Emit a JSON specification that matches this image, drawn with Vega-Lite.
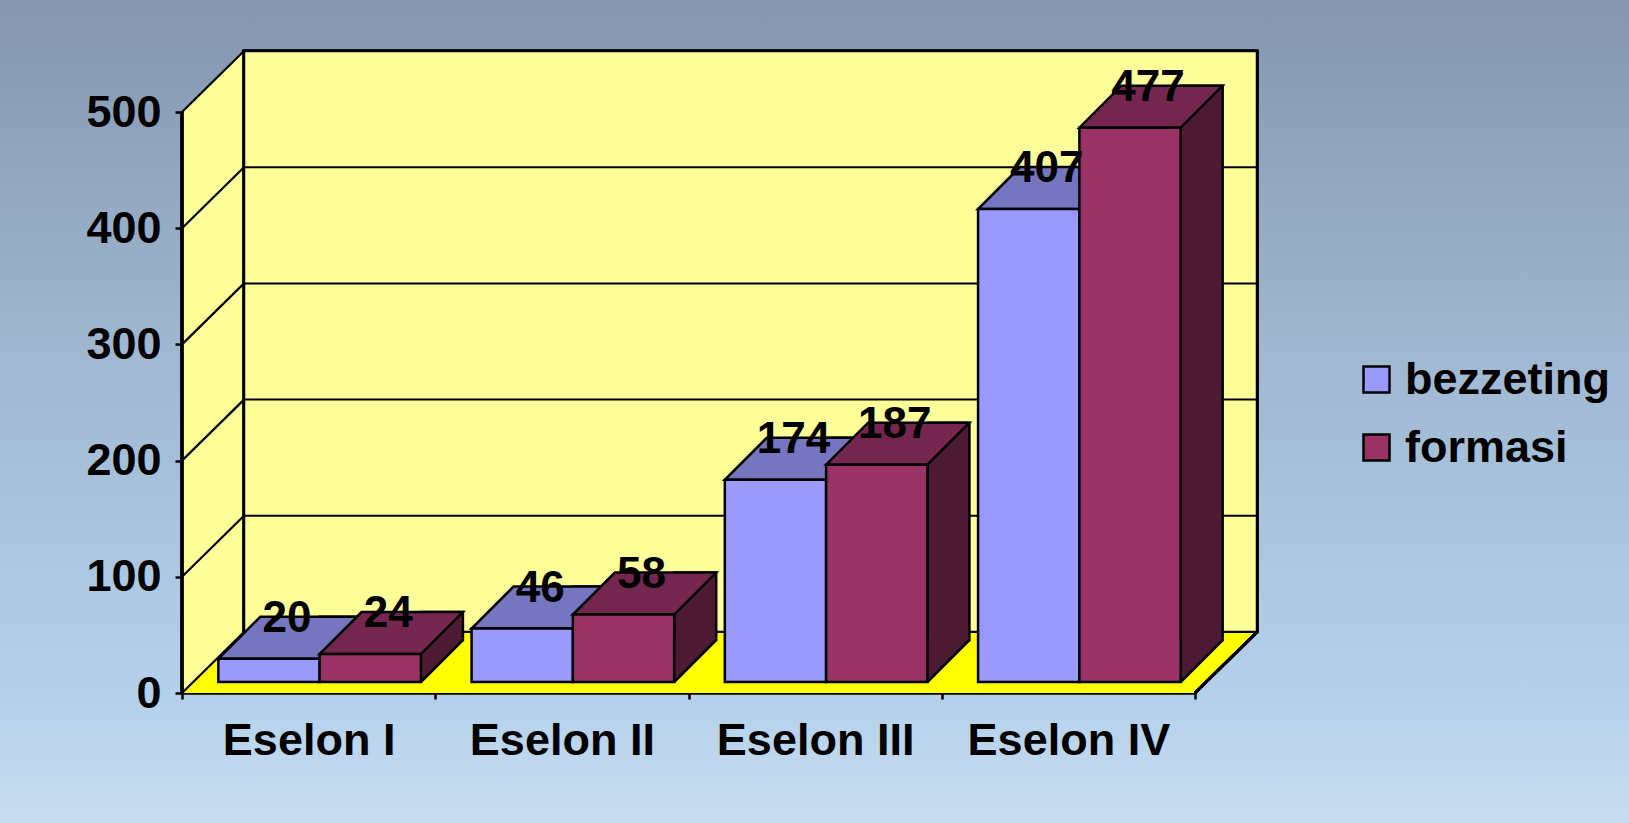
{
  "$schema": "https://vega.github.io/schema/vega-lite/v6.json",
  "width": 1629,
  "height": 823,
  "autosize": {"type": "none"},
  "padding": 0,
  "background": "#A9C1DA",
  "config": {
    "view": {
      "stroke": null,
      "fill": {"gradient": "linear", "x1": 0, "y1": 0, "x2": 0, "y2": 1,
        "stops": [
          {"offset": 0, "color": "#8596AE"},
          {"offset": 0.45, "color": "#A1B9D3"},
          {"offset": 0.85, "color": "#B4D1EB"},
          {"offset": 1, "color": "#C9DDF1"}
        ]}
    },
    "font": "Liberation Sans",
    "axis": {
      "domainColor": "black", "domainWidth": 2.5, "tickColor": "black", "tickWidth": 2.5,
      "labelColor": "black", "labelFont": "Liberation Sans", "labelFontWeight": "bold",
      "labelFontSize": 45, "grid": false, "zindex": 1, "labelLimit": 0
    },
    "axisY": {"offset": -182, "tickSize": 7, "labelPadding": 14},
    "axisX": {"offset": -130, "tickSize": 6, "labelPadding": 19, "tickBand": "extent", "labelAngle": 0},
    "legend": {
      "orient": "none", "legendX": 1354, "legendY": 357, "padding": 0,
      "symbolType": "square", "symbolSize": 676, "symbolStrokeColor": "black", "symbolStrokeWidth": 2.5,
      "labelFont": "Liberation Sans", "labelFontWeight": "bold", "labelFontSize": 45, "labelColor": "black",
      "rowPadding": 22, "labelOffset": 6, "labelLimit": 0
    }
  },
  "datasets": {
    "main": [
      {"eselon": "Eselon I", "series": "bezzeting", "value": 20},
      {"eselon": "Eselon I", "series": "formasi", "value": 24},
      {"eselon": "Eselon II", "series": "bezzeting", "value": 46},
      {"eselon": "Eselon II", "series": "formasi", "value": 58},
      {"eselon": "Eselon III", "series": "bezzeting", "value": 174},
      {"eselon": "Eselon III", "series": "formasi", "value": 187},
      {"eselon": "Eselon IV", "series": "bezzeting", "value": 407},
      {"eselon": "Eselon IV", "series": "formasi", "value": 477}
    ],
    "grid": [{"v": 0}, {"v": 100}, {"v": 200}, {"v": 300}, {"v": 400}, {"v": 500}]
  },
  "layer": [
    {
      "data": {"name": "main"},
      "layer": [
        {
          "mark": {"type": "rect", "fill": "#FFFF99", "strokeWidth": 0, "x2Offset": 62},
          "encoding": {
            "x": {"datum": 0, "type": "quantitative", "scale": {"domain": [0, 4], "range": [182, 1195], "nice": false, "zero": false}, "axis": null},
            "x2": {"datum": 0},
            "y": {"datum": 0, "type": "quantitative", "scale": {"domain": [0, 500], "range": [693, 112], "nice": false}, "title": null},
            "y2": {"datum": 500}
          }
        },
        {
          "mark": {"type": "point", "shape": "M0,0 L63,-62 L63,1 L0,1 Z", "size": 4, "filled": true, "fill": "#FFFF99", "strokeWidth": 0, "opacity": 1},
          "encoding": {
            "x": {"datum": 0, "type": "quantitative", "axis": null},
            "y": {"datum": 500, "type": "quantitative", "title": null}
          }
        },
        {
          "mark": {"type": "rect", "fill": "#FFFF99", "stroke": "black", "strokeWidth": 2.5, "xOffset": 62, "x2Offset": 62, "yOffset": -61, "y2Offset": -61},
          "encoding": {
            "x": {"datum": 0, "type": "quantitative", "axis": null},
            "x2": {"datum": 4},
            "y": {"datum": 0, "type": "quantitative", "title": null},
            "y2": {"datum": 500}
          }
        },
        {
          "mark": {"type": "rect", "fill": "#FFFF00", "strokeWidth": 0, "xOffset": 62, "yOffset": -60},
          "encoding": {
            "x": {"datum": 0, "type": "quantitative", "axis": null},
            "x2": {"datum": 4},
            "y": {"datum": 0, "type": "quantitative", "title": null},
            "y2": {"datum": 0}
          }
        },
        {
          "mark": {"type": "point", "shape": "M0,0 L61,-60 L63,-60 L63,0 Z", "size": 4, "filled": true, "fill": "#FFFF00", "strokeWidth": 0, "opacity": 1},
          "encoding": {
            "x": {"datum": 0, "type": "quantitative", "axis": null},
            "y": {"datum": 0, "type": "quantitative", "title": null}
          }
        },
        {
          "mark": {"type": "point", "shape": "M-1,0 L-1,-60 L61,-60 L0,0 Z", "size": 4, "filled": true, "fill": "#FFFF00", "strokeWidth": 0, "opacity": 1},
          "encoding": {
            "x": {"datum": 4, "type": "quantitative", "axis": null},
            "y": {"datum": 0, "type": "quantitative", "title": null}
          }
        },
        {
          "data": {"name": "grid"},
          "transform": [{"filter": "datum.v > 0 && datum.v < 500"}],
          "mark": {"type": "rule", "color": "black", "strokeWidth": 2, "xOffset": 62, "x2Offset": 62, "yOffset": -61},
          "encoding": {
            "x": {"datum": 0, "type": "quantitative", "axis": null},
            "x2": {"datum": 4},
            "y": {"field": "v", "type": "quantitative", "title": null}
          }
        },
        {
          "data": {"name": "grid"},
          "mark": {"type": "rule", "color": "black", "strokeWidth": 2.2, "x2Offset": 62, "y2Offset": -61},
          "encoding": {
            "x": {"datum": 0, "type": "quantitative", "axis": null},
            "x2": {"datum": 0},
            "y": {"field": "v", "type": "quantitative", "title": null},
            "y2": {"field": "v"}
          }
        },
        {
          "mark": {"type": "rule", "color": "black", "strokeWidth": 2.5, "x2Offset": 62, "y2Offset": -61},
          "encoding": {
            "x": {"datum": 4, "type": "quantitative", "axis": null},
            "x2": {"datum": 4},
            "y": {"datum": 0, "type": "quantitative", "title": null},
            "y2": {"datum": 0}
          }
        },
        {
          "mark": {"type": "rule", "color": "black", "strokeWidth": 2.5},
          "encoding": {
            "x": {"datum": 0, "type": "quantitative", "axis": null},
            "y": {"datum": 0, "type": "quantitative", "title": null},
            "y2": {"datum": 500}
          }
        }
      ]
    },
    {
      "data": {"name": "main"},
      "encoding": {
        "x": {"field": "eselon", "type": "nominal", "sort": null, "scale": {"range": [182, 1195], "paddingInner": 0, "paddingOuter": 0}, "title": null}
      },
      "layer": [
        {
          "mark": {"type": "bar", "width": 42, "yOffset": -53, "y2Offset": -53, "stroke": "black", "strokeWidth": 2.5},
          "encoding": {
            "xOffset": {"field": "series", "type": "nominal", "sort": null, "scale": {"range": [82.65, 335.9], "paddingInner": 0, "paddingOuter": 0.25}},
            "y": {"field": "value", "type": "quantitative", "title": null},
            "y2": {"datum": 0},
            "fill": {"field": "series", "type": "nominal", "scale": {"domain": ["bezzeting", "formasi"], "range": ["#4D4D80", "#4D1A33"]}, "legend": null}
          }
        },
        {
          "mark": {"type": "point", "shape": "M50.65,-55 L93.65,-55 L50.65,-11 Z", "size": 4, "filled": true, "strokeWidth": 0, "opacity": 1},
          "encoding": {
            "xOffset": {"field": "series", "type": "nominal", "sort": null, "scale": {"type": "point", "range": [11, 264.25], "padding": 0.75}},
            "y": {"datum": 0, "type": "quantitative", "title": null},
            "fill": {"field": "series", "type": "nominal", "scale": {"domain": ["bezzeting", "formasi"], "range": ["#4D4D80", "#4D1A33"]}, "legend": null}
          }
        },
        {
          "mark": {"type": "point", "shape": "M50.65,-11 L92.65,-53", "size": 4, "filled": false, "stroke": "black", "strokeWidth": 2.5, "opacity": 1},
          "encoding": {
            "xOffset": {"field": "series", "type": "nominal", "sort": null, "scale": {"type": "point", "range": [11, 264.25], "padding": 0.75}},
            "y": {"datum": 0, "type": "quantitative", "title": null}
          }
        },
        {
          "mark": {"type": "point", "shape": "M-50.65,-11 L50.65,-11 L92.65,-53 L-8.65,-53 Z", "size": 4, "filled": true, "stroke": "black", "strokeWidth": 2.5, "opacity": 1, "strokeJoin": "miter"},
          "encoding": {
            "xOffset": {"field": "series", "type": "nominal", "sort": null, "scale": {"type": "point", "range": [11, 264.25], "padding": 0.75}},
            "y": {"field": "value", "type": "quantitative", "title": null},
            "fill": {"field": "series", "type": "nominal", "scale": {"domain": ["bezzeting", "formasi"], "range": ["#7676C0", "#74264F"]}, "legend": null}
          }
        },
        {
          "mark": {"type": "bar", "yOffset": -11, "y2Offset": -11, "stroke": "black", "strokeWidth": 2.5, "opacity": 1},
          "encoding": {
            "xOffset": {"field": "series", "type": "nominal", "sort": null, "scale": {"range": [11, 264.25], "paddingInner": 0, "paddingOuter": 0.25}},
            "y": {"field": "value", "type": "quantitative", "title": null, "axis": {"values": [0, 100, 200, 300, 400, 500]}},
            "y2": {"datum": 0},
            "color": {"field": "series", "type": "nominal", "scale": {"domain": ["bezzeting", "formasi"], "range": ["#9999FF", "#993366"]}, "title": null}
          }
        },
        {
          "mark": {"type": "text", "font": "Liberation Sans", "fontWeight": "bold", "fontSize": 44, "color": "black", "dx": 18, "dy": -38, "baseline": "alphabetic", "align": "center"},
          "encoding": {
            "xOffset": {"field": "series", "type": "nominal", "sort": null, "scale": {"type": "point", "range": [11, 264.25], "padding": 0.75}},
            "y": {"field": "value", "type": "quantitative", "title": null},
            "text": {"field": "value", "type": "quantitative"}
          }
        }
      ],
      "resolve": {"scale": {"fill": "independent", "xOffset": "independent"}}
    }
  ],
  "resolve": {"scale": {"x": "independent"}}
}
